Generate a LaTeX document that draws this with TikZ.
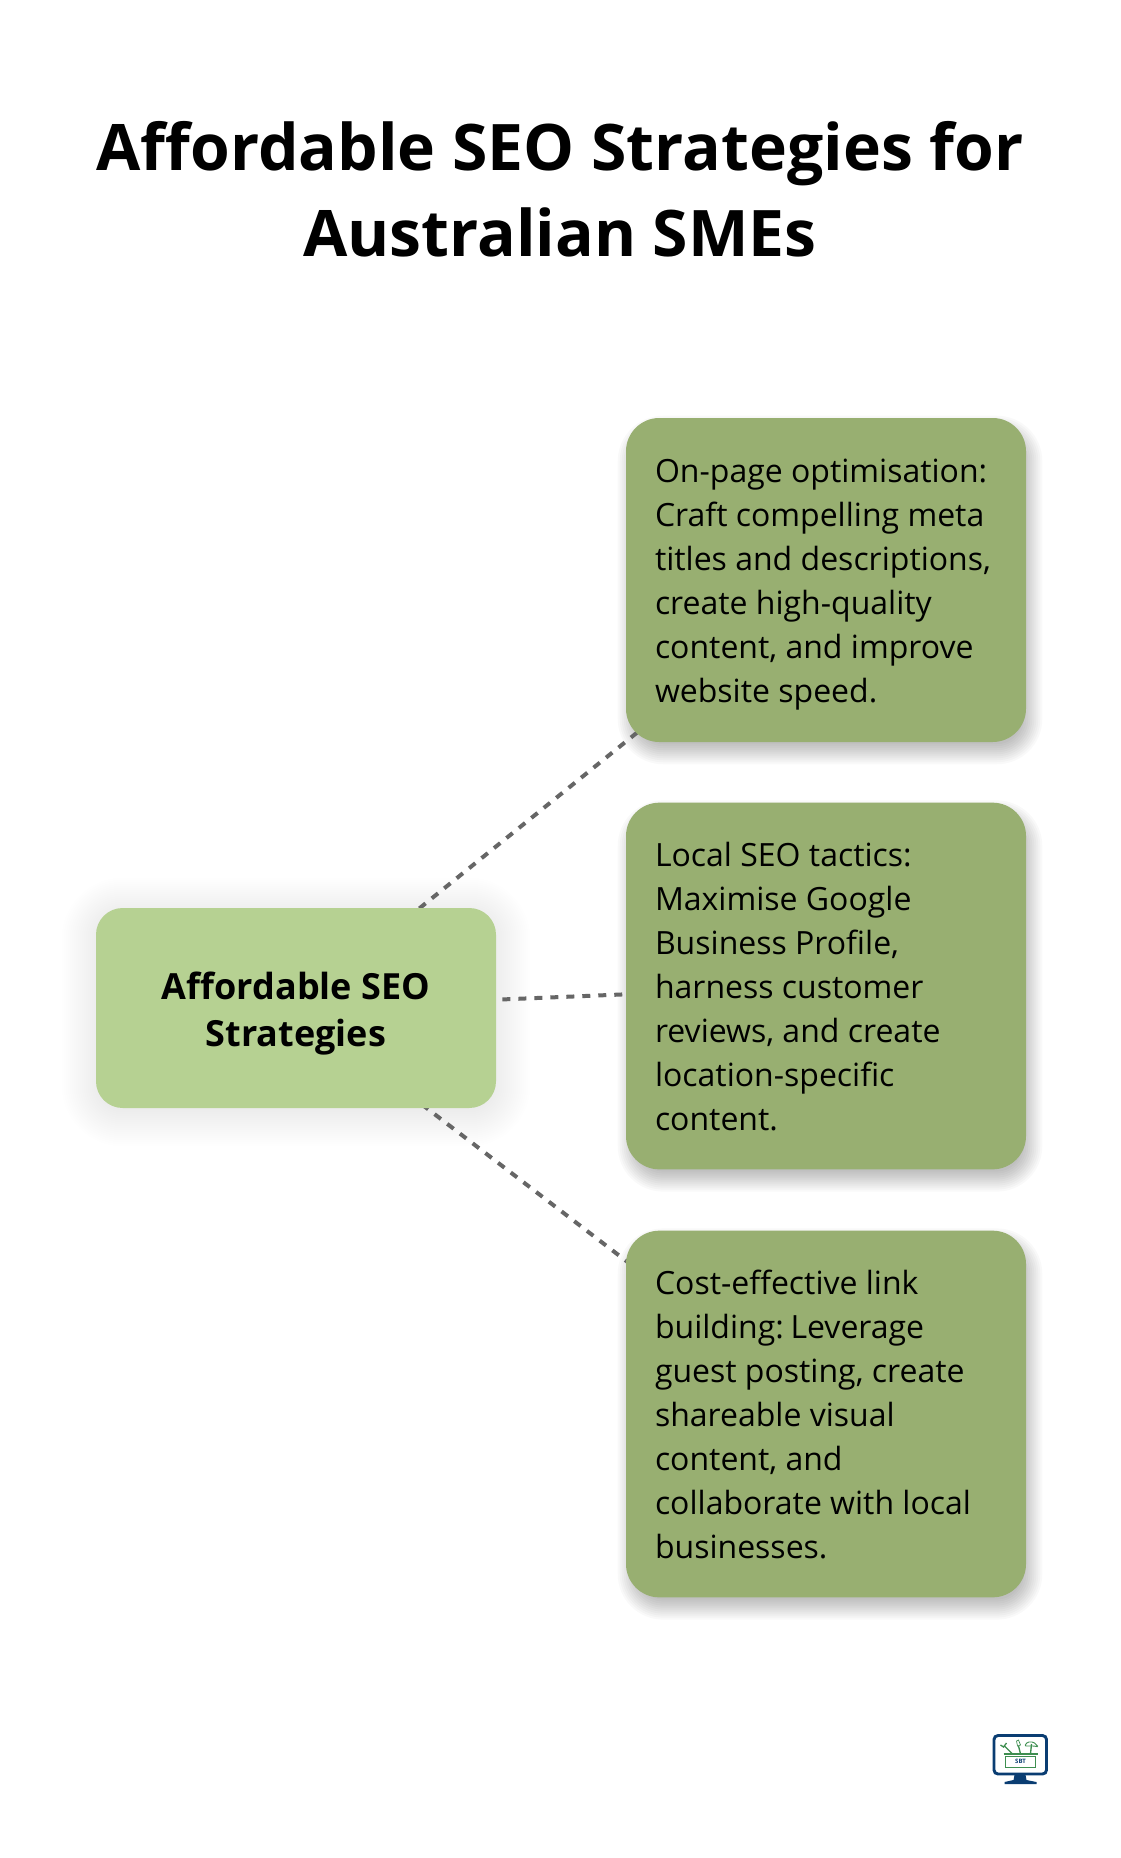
\documentclass[tikz,border=0pt]{standalone}
\usepackage{xcolor}
\usepackage{fontspec}
\usepackage{tikz}
\usetikzlibrary{calc,backgrounds}
\setmainfont{Open Sans}
\definecolor{hubColor}{RGB}{182, 209, 146}
\definecolor{leafColor}{RGB}{152, 175, 113}
\definecolor{linkColor}{RGB}{102, 102, 102}
\definecolor{logoNavy}{RGB}{10, 61, 114}
\definecolor{logoGreen}{RGB}{62, 142, 80}
\tikzset{
    hubbox/.style={fill=hubColor, rounded corners=20pt, minimum width=300pt, minimum height=150pt, align=center, text width=270pt, inner sep=0pt},
    leafbox/.style={fill=leafColor, rounded corners=25pt, minimum width=300pt, align=left, text width=256.5pt, inner sep=0pt},
    linkline/.style={draw=linkColor, line width=3pt, dash pattern=on 6pt off 6pt, dash phase=1.1pt},
}
\newcommand{\titlefont}{\fontsize{48.15}{64.2}\bfseries\spaceskip=0.26em\relax}
\newcommand{\hubfont}{\fontsize{27}{35.6}\bfseries\spaceskip=0.26em\relax}
\newcommand{\leaffont}{\fontsize{24}{33}\selectfont\spaceskip=0.26em\relax}
\newcommand{\hubstrut}{\rule[-6.5pt]{0pt}{36.5pt}}
\newcommand{\leafstrut}{\rule[-7.2pt]{0pt}{33pt}}
% blurred shadow: node, dx, dy, list of spreads, opacity of one layer, corner radius
\newcommand{\softshadow}[6]{
    \foreach \s in {#4}{
        \fill[black, opacity=#5, rounded corners=#6+\s*0.75pt]
            ($(#1.north west)+(#2-\s,#3-\s)$) rectangle ($(#1.south east)+(#2+\s,#3+\s)$);
    }
}

\begin{document}
\begin{tikzpicture}[x=0.75pt,y=-0.75pt]
            % Page
            \useasboundingbox (0,0) rectangle (1120,1858);

            % Title text
            \node[text width=800pt, align=center] (title) at (560,189) {
                {\titlefont Affordable SEO Strategies for\\Australian SMEs\par}
            };

            % Boxes
            \node[hubbox] (hub) at (296,1008) {
                {\hubfont\hubstrut Affordable SEO\\Strategies\rule[-7.8pt]{0pt}{36.5pt}\par}
            };
            \node[leafbox, minimum height=243pt] (onpage) at (826,580) {
                {\leaffont\leafstrut On-page optimisation:\\Craft compelling meta\\titles and descriptions,\\create high-quality\\content, and improve\\website speed.\leafstrut\par}
            };
            \node[leafbox, minimum height=275pt] (localseo) at (826,986) {
                {\leaffont\leafstrut Local SEO tactics:\\Maximise Google\\Business Profile,\\harness customer\\reviews, and create\\location-specific\\content.\leafstrut\par}
            };
            \node[leafbox, minimum height=275pt] (linkbuild) at (826,1414) {
                {\leaffont\leafstrut Cost-effective link\\building: Leverage\\guest posting, create\\shareable visual\\content, and\\collaborate with local\\businesses.\leafstrut\par}
            };

            % Shadows and connectors behind the boxes
            \begin{scope}[on background layer]
                \fill[white] (0,0) rectangle (1120,1858);
                \softshadow{hub}{0}{4}{-10,-8,...,34}{0.005}{20pt}
                \softshadow{onpage}{4}{10}{-8,-6,...,12}{0.022}{25pt}
                \softshadow{localseo}{4}{10}{-8,-6,...,12}{0.022}{25pt}
                \softshadow{linkbuild}{4}{10}{-8,-6,...,12}{0.022}{25pt}
                \draw[linkline] (hub.center) -- (onpage.center);
                \draw[linkline] (hub.center) -- (localseo.center);
                \draw[linkline] (hub.center) -- (linkbuild.center);
            \end{scope}

            % Logo
            \begin{scope}[shift={(992.5,1734)}]
                \draw[logoNavy, line width=2.2pt, rounded corners=3pt, fill=white] (1.5,1.5) rectangle (54,40);
                \fill[logoNavy] (22,41) -- (33,41) -- (34,46) -- (44,48) -- (44,50) -- (12,50) -- (12,48) -- (21,46) -- cycle;
                % toolbox
                \draw[logoGreen, line width=0.6pt] (13,22) rectangle (43,33);
                \draw[logoGreen, line width=0.9pt] (11,20) -- (45,20);
                % wrench, screwdriver, hammer
                \draw[logoGreen, line width=1pt] (20,20) -- (12,12) (8,11) -- (11,13) -- (14,9);
                \draw[logoGreen, line width=1pt] (28,20) -- (26,12);
                \draw[logoGreen, line width=0.5pt] (25,12) -- (24,7) -- (26,6) -- (28,11) -- cycle;
                \draw[logoGreen, line width=1pt] (38,20) -- (39,10);
                \draw[logoGreen, line width=0.7pt, rounded corners=1pt] (32,12) -- (35,8) -- (41,8) -- (46,13) -- (42,12) -- cycle;
                \node[text=logoNavy, inner sep=0pt, font=\fontsize{4.5}{5}\bfseries] (logotext) at (28,27.5) {SBT};
            \end{scope}
        \end{tikzpicture}
\end{document}
